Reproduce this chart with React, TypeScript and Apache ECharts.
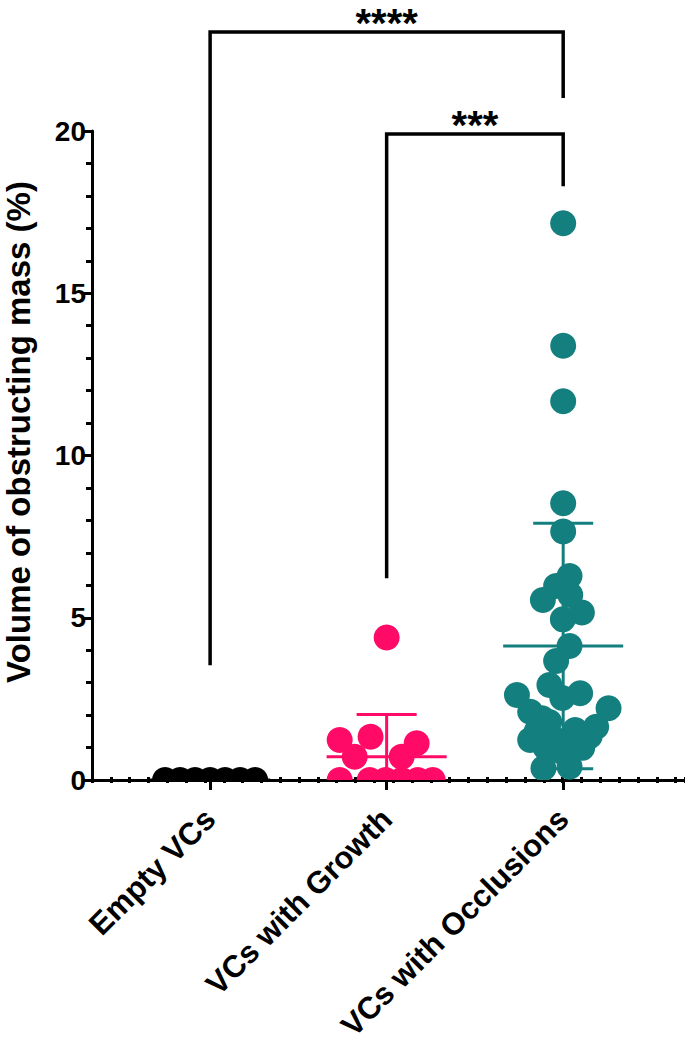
import React, { useEffect, useRef } from "react";
import * as echarts from "echarts";

const categories = ["Empty VCs", "VCs with Growth", "VCs with Occlusions"];
const yTickValues = [0, 5, 10, 15, 20];

// Empty VCs (all zero)
const emptyX = [0.745, 0.83, 0.915, 1.0, 1.085, 1.17, 1.255];
const emptyY = [0, 0, 0, 0, 0, 0, 0];

// VCs with Growth
const growthX = [2.0, 1.734, 1.909, 1.819, 2.17, 2.085, 1.734, 1.904, 1.994, 2.085, 2.176, 2.261];
const growthY = [4.39, 1.23, 1.33, 0.72, 1.13, 0.72, 0, 0, 0, 0, 0, 0];

// VCs with Occlusions
const occlusionX = [
  3.0, 3.0, 3.0, 3.0, 3.0, 3.036, 2.96, 3.04, 2.885, 3.106, 2.998, 3.036, 2.96,
  2.922, 2.738, 3.096, 3.257, 2.813, 2.88, 2.921, 3.068, 3.187, 2.813, 2.96, 3.108,
  2.888, 3.036, 3.15, 2.85, 3.0, 3.03, 2.9, 2.995,
];
const occlusionY = [
  17.16, 13.38, 11.67, 8.53, 7.66, 6.29, 5.98, 5.7, 5.55, 5.16, 4.95, 4.13, 3.67,
  2.93, 2.62, 2.67, 2.21, 2.1, 1.9, 1.79, 1.54, 1.64, 1.23, 1.23, 0.99,
  0.36, 0.41, 1.35, 1.5, 0.85, 1.2, 1.0, 2.53,
];

// mean and SD per group
const groupMeans = [0, 0.72, 4.13];
const groupSDs = [0, 1.3, 3.78];

// significance brackets
const compFrom = [1, 2];
const compTo = [3, 3];
const compTop = [23.05, 19.91];
const compLeftEnd = [3.54, 6.22];
const compRightEnd = [21.02, 18.3];
const compStars = ["****", "***"];

const COLORS = ["#000000", "#FF0A66", "#137F7E"];
const FONT = '"Liberation Sans", Arial, Helvetica, sans-serif';

function zip(xs: number[], ys: number[]) {
  return xs.map((x, i) => [x, ys[i]]);
}

function dotSeries(xs: number[], ys: number[], color: string) {
  return {
    type: "custom",
    clip: true,
    z: 5,
    data: zip(xs, ys),
    encode: { x: 0, y: 1 },
    renderItem: (params: any, api: any) => {
      const p = api.coord([api.value(0), api.value(1)]);
      return {
        type: "circle",
        shape: { cx: p[0], cy: p[1], r: 13 },
        style: { fill: color },
      };
    },
  };
}

export default function App() {
  const ref = useRef<HTMLDivElement>(null);
  useEffect(() => {
    if (!ref.current) return;
    const chart = echarts.init(ref.current, null, { renderer: "svg" });

    const errData = groupMeans.map((m, i) => [i + 1, m, groupSDs[i]]);
    const bracketData = compFrom.map((f, i) => [f, compTo[i], compTop[i], compLeftEnd[i], compRightEnd[i]]);

    const option: any = {
      animation: false,
      backgroundColor: "#ffffff",
      grid: { left: 92, right: 0, top: 131, bottom: 271, containLabel: false },
      xAxis: [
        {
          type: "value",
          min: 0.331,
          max: 3.69,
          position: "bottom",
          axisLine: { show: true, onZero: false, lineStyle: { color: "#000", width: 3 } },
          axisTick: { show: true, customValues: [1, 2, 3], length: 10, lineStyle: { color: "#000", width: 3 } },
          axisLabel: {
            show: true,
            customValues: [1, 2, 3],
            formatter: (v: number) => categories[Math.round(v) - 1] ?? "",
            rotate: 45,
            margin: 34,
            color: "#000",
            fontFamily: FONT,
            fontWeight: "bold",
            fontSize: 31,
          },
          splitLine: { show: false },
        },
        {
          type: "value",
          min: 0,
          max: 31.5,
          interval: 1,
          position: "bottom",
          axisLine: { show: false, onZero: false },
          axisTick: { show: true, length: 3, lineStyle: { color: "#000", width: 3 } },
          axisLabel: { show: false },
          splitLine: { show: false },
        },
        {
          type: "value",
          min: 0,
          max: 31.5,
          interval: 1,
          position: "bottom",
          axisLine: { show: false, onZero: false },
          axisTick: { show: true, inside: true, length: 3, lineStyle: { color: "#000", width: 3 } },
          axisLabel: { show: false },
          splitLine: { show: false },
        },
      ],
      yAxis: {
        type: "value",
        min: yTickValues[0],
        max: yTickValues[yTickValues.length - 1],
        interval: 5,
        axisLine: { show: true, onZero: false, lineStyle: { color: "#000", width: 3 } },
        axisTick: { show: true, length: 10, lineStyle: { color: "#000", width: 3 } },
        minorTick: { show: true, splitNumber: 5, length: 6, lineStyle: { color: "#000", width: 3 } },
        axisLabel: {
          color: "#000",
          fontFamily: FONT,
          fontWeight: "bold",
          fontSize: 28,
          margin: 6,
        },
        splitLine: { show: false },
        minorSplitLine: { show: false },
      },
      graphic: [
        {
          type: "text",
          x: 18,
          y: 432,
          rotation: Math.PI / 2,
          style: {
            text: "Volume of obstructing mass (%)",
            font: `bold 33px ${FONT}`,
            fill: "#000",
            textAlign: "center",
            textVerticalAlign: "middle",
          },
        },
      ],
      series: [
        {
          type: "custom",
          clip: true,
          z: 3,
          data: errData,
          encode: { x: 0, y: [1, 2] },
          renderItem: (params: any, api: any) => {
            const c = api.value(0);
            const m = api.value(1);
            const sd = api.value(2);
            const color = COLORS[params.dataIndex];
            const st = { stroke: color, lineWidth: 3, fill: "none" };
            const seg = (x1: number, y1: number, x2: number, y2: number) => {
              const a = api.coord([x1, y1]);
              const b = api.coord([x2, y2]);
              return { type: "line", shape: { x1: a[0], y1: a[1], x2: b[0], y2: b[1] }, style: st };
            };
            return {
              type: "group",
              children: [
                seg(c, m - sd, c, m + sd),
                seg(c - 0.34, m, c + 0.34, m),
                seg(c - 0.17, m + sd, c + 0.17, m + sd),
                seg(c - 0.17, m - sd, c + 0.17, m - sd),
              ],
            };
          },
        },
        dotSeries(emptyX, emptyY, COLORS[0]),
        dotSeries(growthX, growthY, COLORS[1]),
        dotSeries(occlusionX, occlusionY, COLORS[2]),
        {
          type: "custom",
          clip: false,
          z: 6,
          data: bracketData,
          encode: { x: [0, 1], y: [2, 3, 4] },
          renderItem: (params: any, api: any) => {
            const x1 = api.value(0);
            const x2 = api.value(1);
            const top = api.value(2);
            const le = api.value(3);
            const re = api.value(4);
            const pts = [
              api.coord([x1, le]),
              api.coord([x1, top]),
              api.coord([x2, top]),
              api.coord([x2, re]),
            ];
            const mid = api.coord([(x1 + x2) / 2, top]);
            return {
              type: "group",
              children: [
                {
                  type: "polyline",
                  shape: { points: pts },
                  style: { stroke: "#000", lineWidth: 3.5, fill: "none", lineJoin: "miter" },
                },
                {
                  type: "text",
                  style: {
                    text: compStars[params.dataIndex],
                    x: mid[0],
                    y: mid[1] - 9,
                    textAlign: "center",
                    textVerticalAlign: "middle",
                    font: `bold 40px ${FONT}`,
                    fill: "#000",
                  },
                },
              ],
            };
          },
        },
      ],
    };
    chart.setOption(option);
    return () => chart.dispose();
  }, []);
  return (
    <div
      ref={ref}
      style={{ position: "absolute", left: 0, top: 0, width: 685, height: 1051, background: "#fff" }}
    />
  );
}
